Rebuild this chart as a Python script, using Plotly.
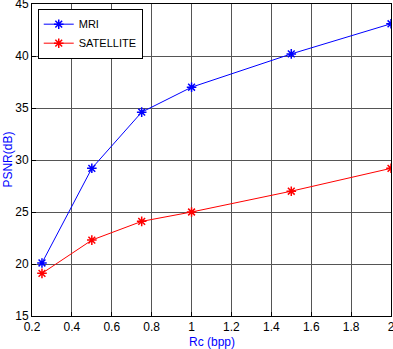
import plotly.graph_objects as go

rc = [0.25, 0.5, 0.75, 1.0, 1.5, 2.0]
mri = [20.1, 29.2, 34.6, 37.0, 40.2, 43.1]
sat = [19.1, 22.3, 24.1, 25.0, 27.0, 29.2]
xticks = [0.2, 0.4, 0.6, 0.8, 1, 1.2, 1.4, 1.6, 1.8, 2]
yticks = [15, 20, 25, 30, 35, 40, 45]

fig = go.Figure()
fig.add_trace(go.Scatter(x=rc, y=mri, name="MRI", mode="lines+markers",
                         line=dict(color="#0000ff", width=1),
                         marker=dict(symbol="asterisk-open", size=8, color="#0000ff",
                                     line=dict(width=1.5, color="#0000ff"))))
fig.add_trace(go.Scatter(x=rc, y=sat, name="SATELLITE", mode="lines+markers",
                         line=dict(color="#ff0000", width=1),
                         marker=dict(symbol="asterisk-open", size=8, color="#ff0000",
                                     line=dict(width=1.5, color="#ff0000"))))

fig.update_layout(
    width=393, height=349,
    margin=dict(l=32, r=2, t=4, b=33, autoexpand=False),
    paper_bgcolor="white", plot_bgcolor="white",
    font=dict(family="Liberation Sans, Arial", size=12, color="black"),
    showlegend=True,
    legend=dict(x=0.016, y=0.985, xanchor="left", yanchor="top",
                bordercolor="black", borderwidth=1, bgcolor="white",
                font=dict(size=11), itemwidth=30, tracegroupgap=0),
)
fig.update_xaxes(range=[0.2, 2], tickvals=xticks, ticktext=[str(t) for t in xticks],
                 showgrid=True, gridcolor="#555555", gridwidth=1,
                 showline=True, linecolor="black", linewidth=1, mirror=True,
                 ticks="inside", ticklen=4, tickcolor="black",
                 zeroline=False, automargin=False, ticklabeloverflow="allow")
fig.update_yaxes(range=[15, 45], tickvals=yticks,
                 showgrid=True, gridcolor="#555555", gridwidth=1,
                 showline=True, linecolor="black", linewidth=1, mirror=True,
                 ticks="inside", ticklen=4, tickcolor="black",
                 zeroline=False, automargin=False, ticklabeloverflow="allow")

fig.add_annotation(text="Rc (bpp)", xref="paper", yref="paper", x=0.5, y=-0.082,
                   xanchor="center", yanchor="middle", showarrow=False,
                   font=dict(color="#0000ff", size=12))
fig.add_annotation(text="PSNR(dB)", xref="paper", yref="paper", x=-0.068, y=0.5,
                   xanchor="center", yanchor="middle", showarrow=False, textangle=-90,
                   font=dict(color="#0000ff", size=12))

fig.write_html("out.html", config={"displayModeBar": False},
               post_script="document.body.style.margin='0';document.body.style.overflow='hidden';")
